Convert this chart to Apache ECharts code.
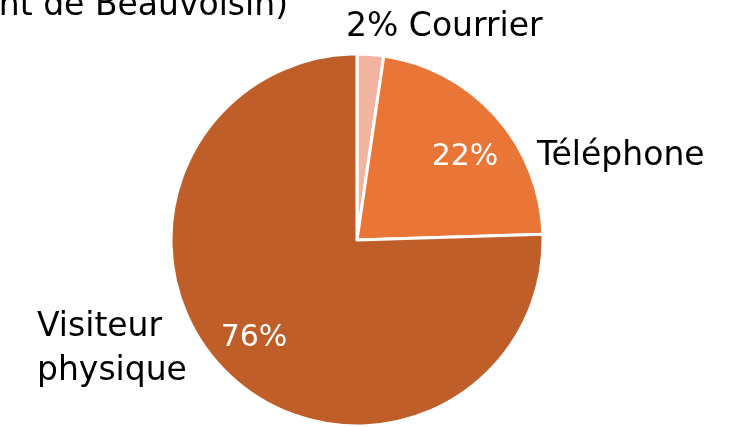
<!DOCTYPE html>
<html>
<head>
<meta charset="utf-8">
<script src="https://cdn.jsdelivr.net/npm/echarts@6/dist/echarts.min.js"></script>
<style>
  html, body { margin: 0; padding: 0; background: #fff; }
  #chart { width: 729px; height: 427px; }
</style>
</head>
<body>
<div id="chart"></div>
<script>
// données du camembert
var categories = ['Courrier', 'Téléphone', 'Visiteur\nphysique'];
var values = [2.3, 22.2, 75.5];
var colors = ['#F2B3A0', '#E97537', '#C05E2A'];
var titleText = 'Canal de contact (Pont de Beauvoisin)';

var fontFamily = '"DejaVu Sans", sans-serif';

var chart = echarts.init(document.getElementById('chart'));

var pieData = categories.map(function (name, i) {
    return { name: name, value: values[i], itemStyle: { color: colors[i] } };
});

// emplacement des étiquettes extérieures
var outerLabelPos = [
    { x: 346, y: 27 },
    { x: 537, y: 156 },
    { x: 37, y: 349 }
];
// emplacement des pourcentages
var innerLabelPos = [null, { x: 465, y: 157 }, { x: 254, y: 338 }];

var option = {
    backgroundColor: '#fff',
    animation: false,
    graphic: [{
        type: 'text',
        right: 729 - 288,
        top: -10,
        style: {
            text: titleText,
            font: '33px ' + fontFamily,
            fill: '#000',
            textAlign: 'right'
        }
    }],
    series: [
        {
            type: 'pie',
            center: [357, 240],
            radius: [0, 186],
            startAngle: 90,
            clockwise: true,
            data: pieData,
            itemStyle: { borderColor: '#fff', borderWidth: 3 },
            label: {
                show: true,
                position: 'outside',
                color: '#000',
                fontSize: 33,
                fontFamily: fontFamily,
                lineHeight: 44,
                formatter: function (p) {
                    if (p.dataIndex === 0) {
                        return Math.round(p.percent) + '% ' + p.name;
                    }
                    return p.name;
                }
            },
            labelLine: { show: false },
            labelLayout: function (params) {
                var pos = outerLabelPos[params.dataIndex];
                return { x: pos.x, y: pos.y, align: 'left', verticalAlign: 'middle' };
            },
            emphasis: { disabled: true }
        },
        {
            // pourcentages à l'intérieur
            type: 'pie',
            center: [357, 240],
            radius: [96, 186],
            startAngle: 90,
            clockwise: true,
            silent: true,
            data: pieData.map(function (d, i) {
                return {
                    name: d.name,
                    value: d.value,
                    itemStyle: { color: 'rgba(0,0,0,0)' },
                    label: { show: i > 0 }
                };
            }),
            label: {
                position: 'inside',
                color: '#fff',
                fontSize: 30,
                fontFamily: fontFamily,
                formatter: function (p) {
                    return Math.round(p.percent) + '%';
                }
            },
            labelLine: { show: false },
            labelLayout: function (params) {
                var pos = innerLabelPos[params.dataIndex];
                if (!pos) return {};
                return { x: pos.x, y: pos.y, align: 'center', verticalAlign: 'middle' };
            },
            emphasis: { disabled: true }
        }
    ]
};

chart.setOption(option);
</script>
</body>
</html>
